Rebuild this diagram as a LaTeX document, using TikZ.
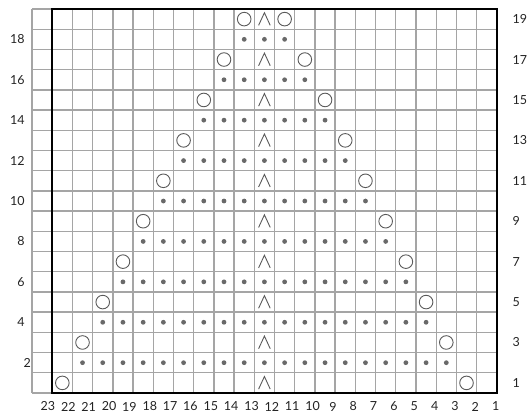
\documentclass[tikz,border=0pt]{standalone}
\usepackage{fontspec}
\setmainfont{Lato}
\definecolor{gridgray}{RGB}{165,165,165}
\definecolor{symgray}{RGB}{90,90,90}
\definecolor{dotgray}{RGB}{105,105,105}
\definecolor{labelcol}{RGB}{35,35,35}
\tikzset{
  gridline/.style={draw=gridgray, line width=1.4pt},
  frameline/.style={draw=black, line width=1.8pt},
  yocircle/.style={draw=symgray, line width=0.9pt},
  stdot/.style={fill=dotgray, draw=none},
  decline/.style={draw=symgray, line width=0.9pt, line join=miter},
  lab/.style={font=\fontsize{12.5}{13}\selectfont, text=labelcol, inner sep=0pt}
}
\begin{document}
\begin{tikzpicture}[x=1pt,y=-1pt]
\useasboundingbox (0,0) rectangle (531,416);
\def\s{20.21}
% grid
\foreach \i in {0,...,23} \draw[gridline] ({32+\i*\s},9) -- ({32+\i*\s},393);
\foreach \j in {0,...,19} \draw[gridline] (32,{9+\j*\s}) -- ({32+23*\s},{9+\j*\s});
% frame
\draw[frameline] ({32+\s},9) rectangle ({32+23*\s},393);
% odd rows: circles and decreases
\foreach \k in {1,...,10}{
  \pgfmathsetmacro{\yy}{393-(2*\k-1.5)*\s}
  \draw[yocircle] ({32+(\k+0.5)*\s},\yy) circle (6.8pt);
  \draw[yocircle] ({32+(22-\k+0.5)*\s},\yy) circle (6.8pt);
  \draw[decline] ({32+11.5*\s-5.8},{\yy+6.2}) -- ({32+11.5*\s},{\yy-6.4}) -- ({32+11.5*\s+5.8},{\yy+6.2});
}
% even rows: dots
\foreach \k in {1,...,9}{
  \pgfmathsetmacro{\yy}{393-(2*\k-0.5)*\s}
  \pgfmathtruncatemacro{\a}{\k+1}
  \pgfmathtruncatemacro{\b}{21-\k}
  \foreach \i in {\a,...,\b}{
    \fill[stdot] ({32+(\i+0.5)*\s},\yy) circle (2.4pt);
  }
}
% bottom labels
\foreach \c in {1,...,23}{
  \node[lab] (b\c) at ({48+(23-\c)*20.35},406.5) {\c};
}
% left labels
\node[lab, anchor=east] (l2) at (31,{393-1.5*\s}) {2};
\foreach \r in {4,6,...,18}{
  \node[lab, anchor=east] (l\r) at (24.8,{393-(\r-0.5)*\s}) {\r};
}
% right labels
\foreach \r in {1,3,...,19}{
  \node[lab, anchor=west] (r\r) at (512.5,{393-(\r-0.5)*\s}) {\r};
}
\end{tikzpicture}
\end{document}
